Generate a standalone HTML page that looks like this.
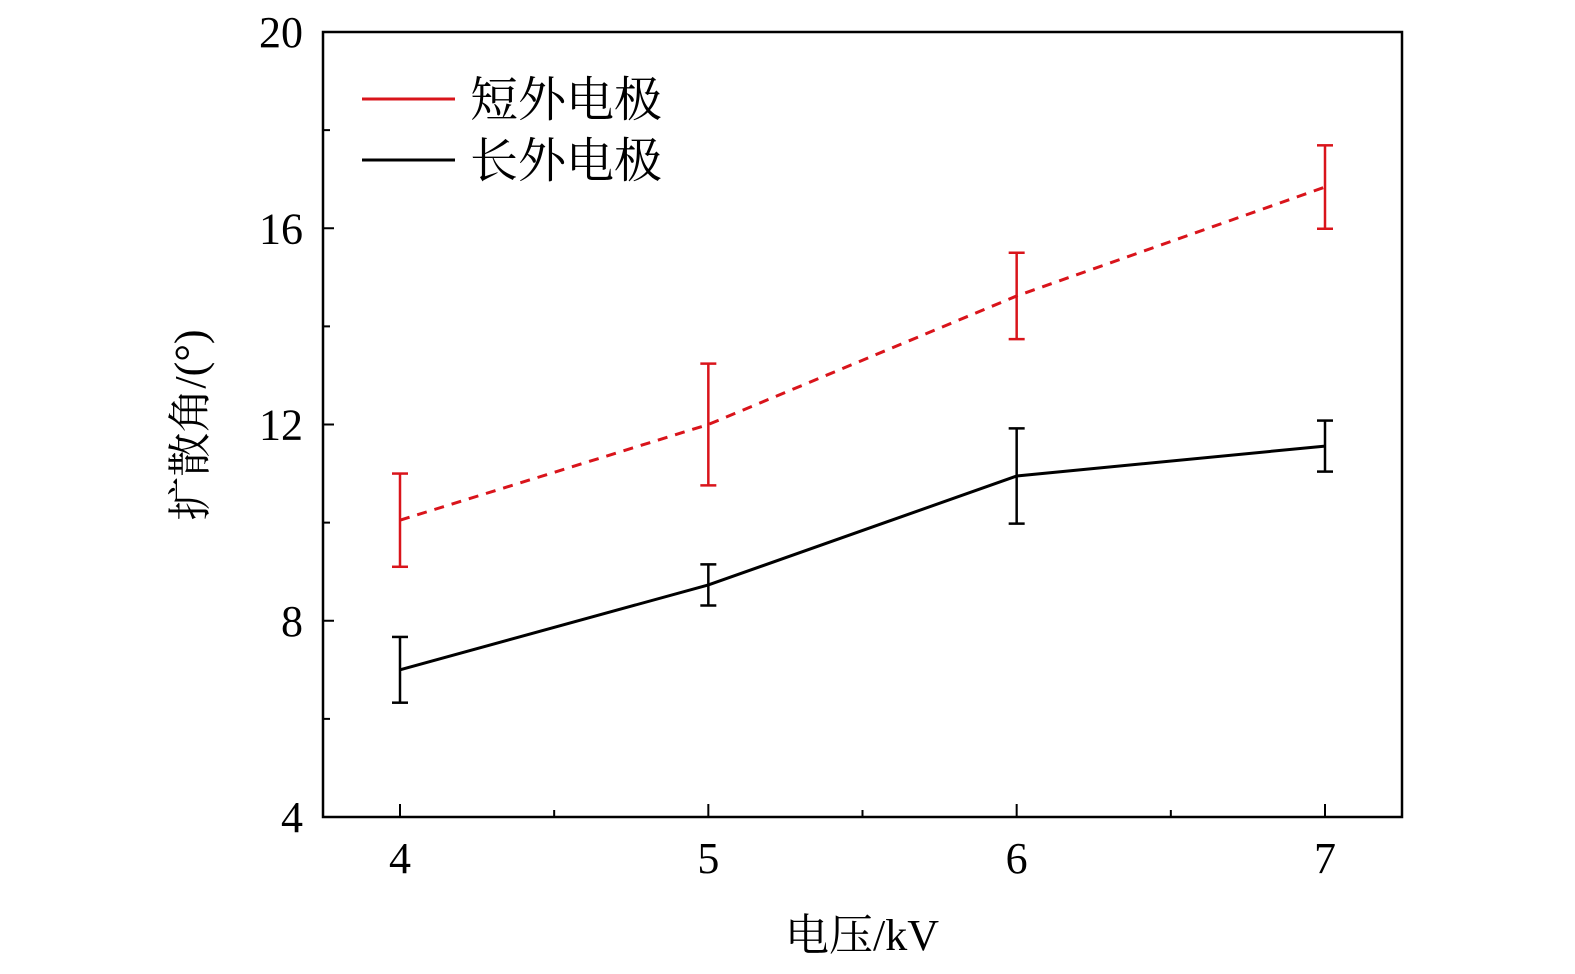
<!DOCTYPE html>
<html><head><meta charset="utf-8"><style>
html,body{margin:0;padding:0;background:#fff;overflow:hidden;width:1575px;height:974px;}
svg{display:block;}
svg text{font-family:"Liberation Serif","Noto Serif CJK SC",serif;fill:#000;}
</style></head><body>
<svg id="chart" width="1575" height="974" xmlns="http://www.w3.org/2000/svg">
<g id="axes"></g>
<g id="series"></g>
<g>
<line x1="362" y1="99" x2="455" y2="99" stroke="#d9141b" stroke-width="3"/>
<text x="470" y="116" font-size="48">短外电极</text>
<line x1="362" y1="160" x2="455" y2="160" stroke="#000" stroke-width="3"/>
<text x="470" y="177" font-size="48">长外电极</text>
</g>
<text x="862" y="950" font-size="44" text-anchor="middle">电压/kV</text>
<text transform="translate(205,425) rotate(-90)" font-size="44" text-anchor="middle">扩散角/(°)</text>
</svg>
<script>
const categories = [4, 5, 6, 7];
const shortValues = [10.05, 12.0, 14.62, 16.84];
const shortErrors = [0.95, 1.24, 0.88, 0.85];
const longValues = [7.0, 8.73, 10.95, 11.56];
const longErrors = [0.67, 0.42, 0.97, 0.52];
const yTicks = [4, 8, 12, 16, 20];
const yMinor = [6, 10, 14, 18];
const xTicks = [4, 5, 6, 7];
const xMinor = [4.5, 5.5, 6.5];

const L=323,R=1402,T=32,B=817;
const xs=v=>400+(v-4)*(1325-400)/3;
const ys=v=>B-(v-4)*(B-T)/16;
const NS='http://www.w3.org/2000/svg';
function mk(tag,attrs,parent){const e=document.createElementNS(NS,tag);for(const k in attrs)e.setAttribute(k,attrs[k]);parent.appendChild(e);return e;}
const ax=document.getElementById('axes'), se=document.getElementById('series');
const frame=mk('rect',{x:L,y:T,width:R-L,height:B-T,fill:'none',stroke:'#000','stroke-width':2.5},ax);


yTicks.forEach(v=>{
 const t=mk('line',{x1:L,x2:L+11,y1:ys(v),y2:ys(v),stroke:'#000','stroke-width':2},ax);
 
 
 const l=mk('text',{x:L-20,y:ys(v)+15,'font-size':44,'text-anchor':'end'},ax);l.textContent=v;
 
 
});
yMinor.forEach(v=>{
 const t=mk('line',{x1:L,x2:L+7,y1:ys(v),y2:ys(v),stroke:'#000','stroke-width':2},ax);
 
 
});
xTicks.forEach(v=>{
 const t=mk('line',{x1:xs(v),x2:xs(v),y1:B,y2:B-13,stroke:'#000','stroke-width':2},ax);
 
 
 const l=mk('text',{x:xs(v),y:B+56,'font-size':44,'text-anchor':'middle'},ax);l.textContent=v;
 
 
});
xMinor.forEach(v=>{
 const t=mk('line',{x1:xs(v),x2:xs(v),y1:B,y2:B-7,stroke:'#000','stroke-width':2},ax);
 
 
});
function series(vals,errs,color,dash,name){
 const pts=categories.map((c,i)=>xs(c)+','+ys(vals[i])).join(' ');
 const p=mk('polyline',{points:pts,fill:'none',stroke:color,'stroke-width':3,'stroke-dasharray':dash},se);
 
 
 categories.forEach((c,i)=>{
  const x=xs(c),y1=ys(vals[i]+errs[i]),y2=ys(vals[i]-errs[i]);
  const g=mk('g',{stroke:color,'stroke-width':2.5},se);
  
  
  mk('line',{x1:x,x2:x,y1:y1,y2:y2},g);
  mk('line',{x1:x-8,x2:x+8,y1:y1,y2:y1},g);
  mk('line',{x1:x-8,x2:x+8,y1:y2,y2:y2},g);
 });
}
series(shortValues,shortErrors,'#d9141b','10,8','short-electrode');
series(longValues,longErrors,'#000','none','long-electrode');
</script>
</body></html>
